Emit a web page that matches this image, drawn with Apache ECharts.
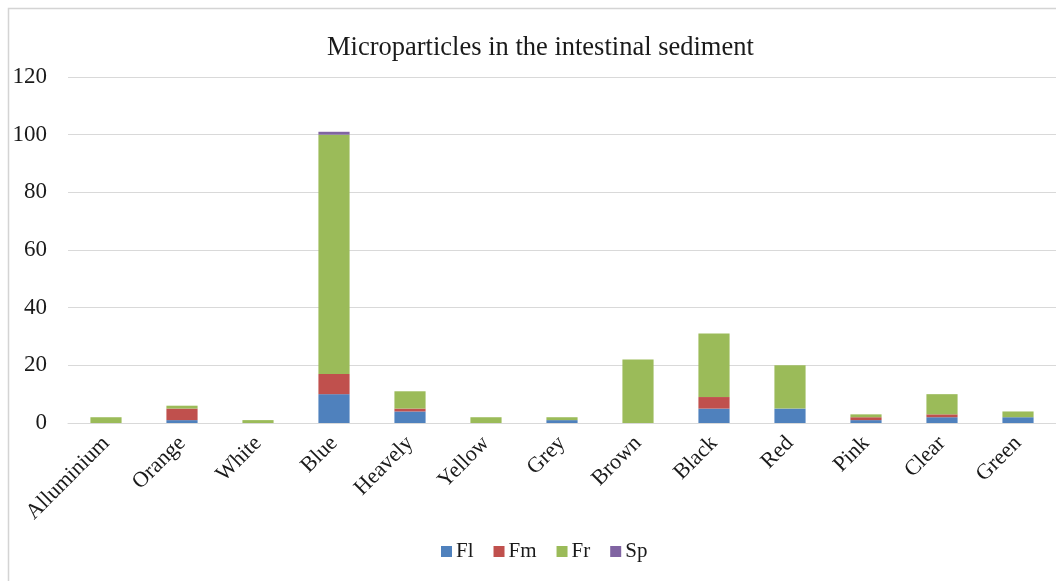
<!DOCTYPE html>
<html>
<head>
<meta charset="utf-8">
<script src="https://cdn.jsdelivr.net/npm/echarts@6/dist/echarts.min.js"></script>
<style>
  html, body { margin: 0; padding: 0; background: #fff; }
  #chart { width: 1056px; height: 581px; }
</style>
</head>
<body>
<div id="chart"></div>
<script>
// Colour categories of particles found in the intestinal sediment
const categories = ['Alluminium', 'Orange', 'White', 'Blue', 'Heavely', 'Yellow', 'Grey', 'Brown', 'Black', 'Red', 'Pink', 'Clear', 'Green'];

// Counts per particle type
const fl = [0, 1, 0, 10, 4, 0, 1, 0, 5, 5, 1, 2, 2];
const fm = [0, 4, 0, 7, 1, 0, 0, 0, 4, 0, 1, 1, 0];
const fr = [2, 1, 1, 83, 6, 2, 1, 22, 22, 15, 1, 7, 2];
const sp = [0, 0, 0, 1, 0, 0, 0, 0, 0, 0, 0, 0, 0];

const seriesNames = ['Fl', 'Fm', 'Fr', 'Sp'];
const seriesData = [fl, fm, fr, sp];
const colors = ['#4F81BD', '#C0504D', '#9BBB59', '#8064A2'];

const serif = '"Liberation Serif", "DejaVu Serif", serif';

const chart = echarts.init(document.getElementById('chart'));
chart.setOption({
  animation: false,
  color: colors,
  graphic: [{
    type: 'rect',
    shape: { x: 8.5, y: 8.5, width: 1060, height: 600 },
    style: { fill: 'none', stroke: '#d4d4d4', lineWidth: 1.5 },
    z: -1
  }],
  title: {
    text: 'Microparticles in the intestinal sediment',
    left: 322,
    top: 30,
    textStyle: { fontFamily: serif, fontSize: 26.5, fontWeight: 'normal', color: '#1a1a1a' }
  },
  legend: {
    data: seriesNames,
    top: 536,
    left: 436,
    itemWidth: 11,
    itemHeight: 11,
    itemGap: 20,
    icon: 'rect',
    textStyle: { fontFamily: serif, fontSize: 21, color: '#1a1a1a', padding: [0, 0, 0, -1] }
  },
  grid: { left: 68, right: 0, top: 77, bottom: 158 },
  xAxis: {
    type: 'category',
    data: categories,
    axisLine: { lineStyle: { color: '#d9d9d9', width: 1 } },
    axisTick: { show: false },
    axisLabel: {
      rotate: 45,
      interval: 0,
      margin: 17,
      fontFamily: serif,
      fontSize: 22,
      color: '#1a1a1a'
    }
  },
  yAxis: {
    type: 'value',
    min: 0,
    max: 120,
    interval: 20,
    axisLine: { show: false },
    axisTick: { show: false },
    splitLine: { lineStyle: { color: '#d9d9d9', width: 1 } },
    axisLabel: { fontFamily: serif, fontSize: 23, color: '#1a1a1a', margin: 21 }
  },
  series: seriesNames.map((name, i) => ({
    name: name,
    type: 'bar',
    stack: 'total',
    barWidth: '41%',
    data: seriesData[i]
  }))
});
</script>
</body>
</html>
